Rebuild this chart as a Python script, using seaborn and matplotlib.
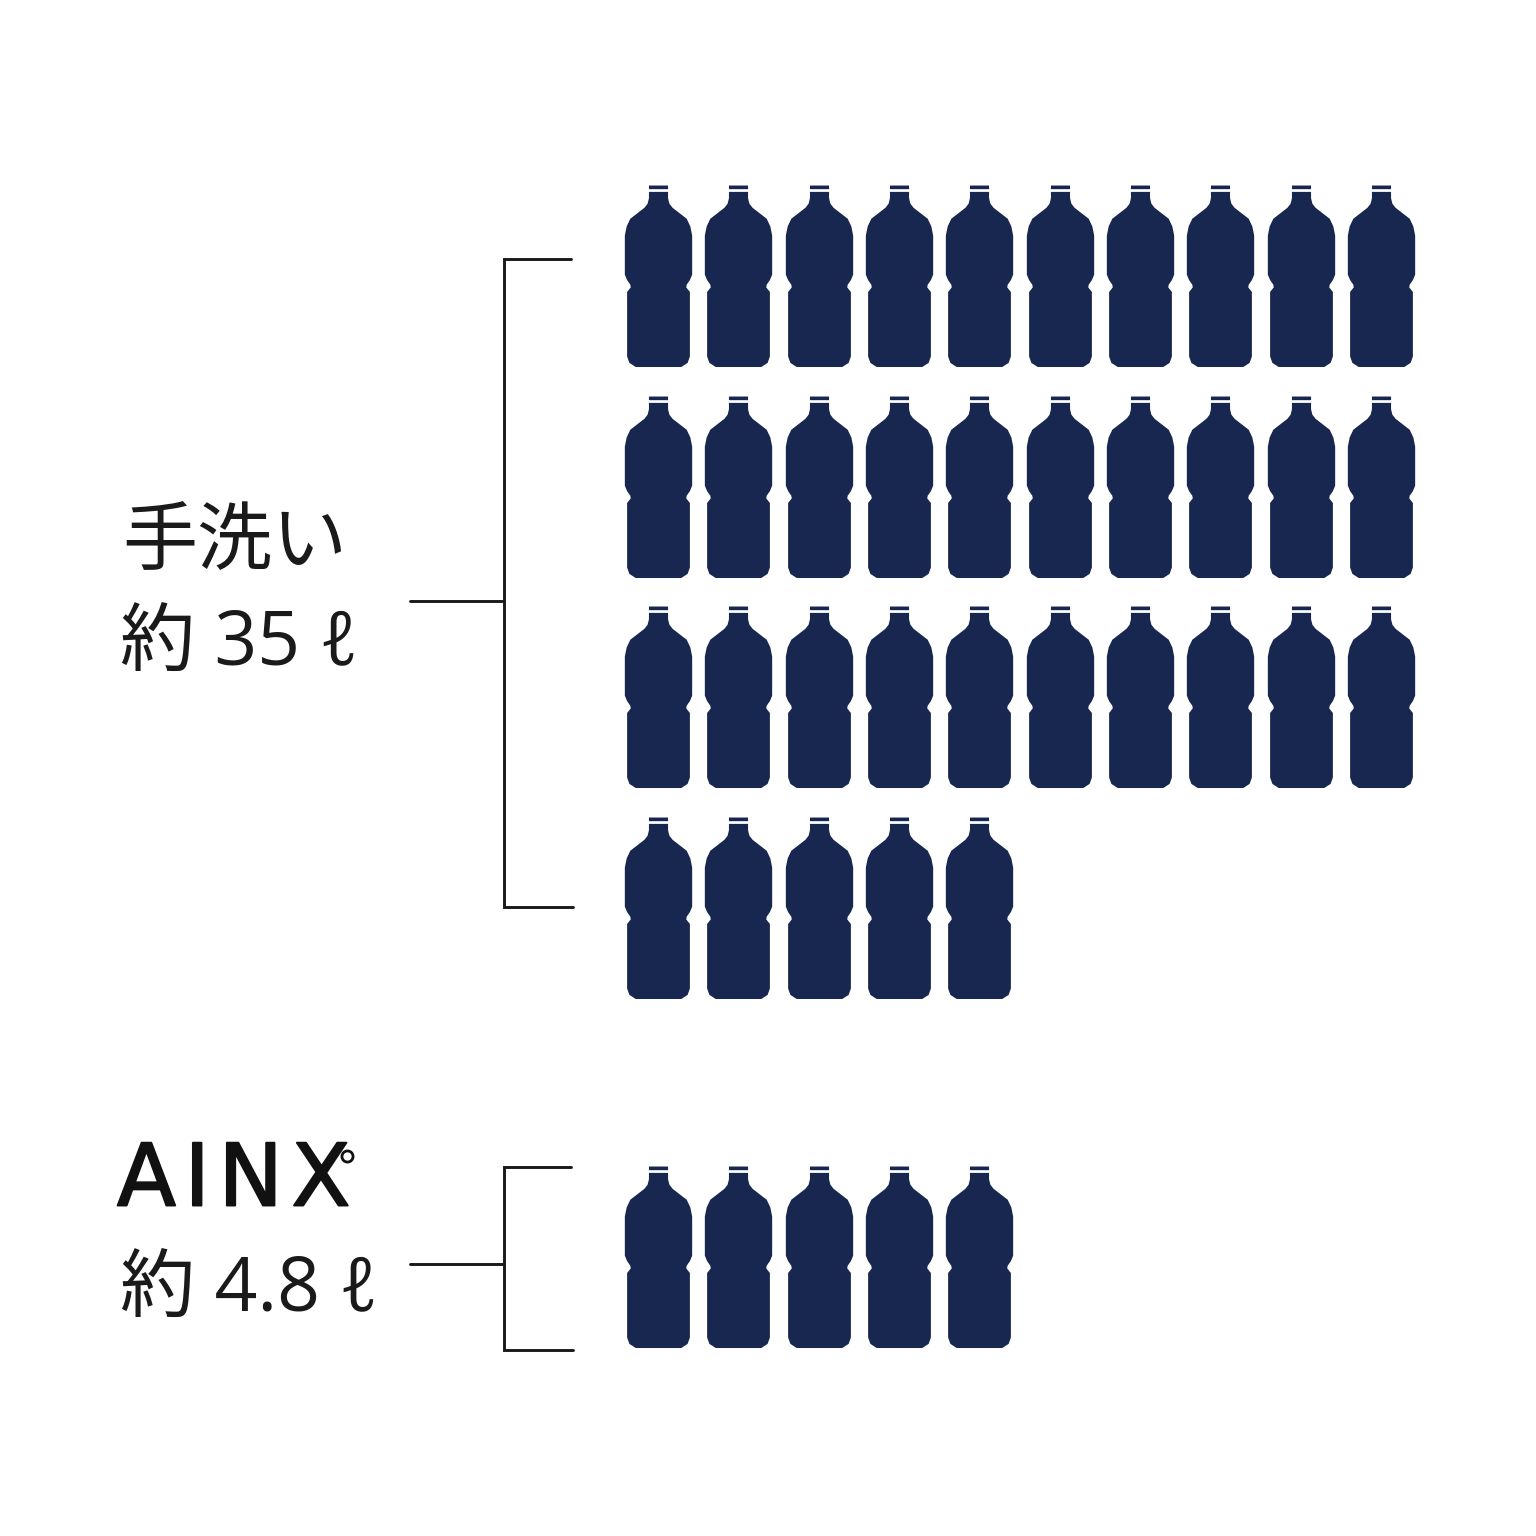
import matplotlib
matplotlib.use("Agg")
import matplotlib.patheffects as pe
import matplotlib.pyplot as plt
import pandas as pd
import seaborn as sns
from matplotlib.markers import MarkerStyle
from matplotlib.path import Path
from matplotlib.transforms import Affine2D

# how many bottles in each row
hand_rows = [10, 10, 10, 5]
ainx_rows = [5]
hand_label = "手洗い"
hand_amount = "約 35 ℓ"
ainx_label = "A\u200aI\u200aN\u200aX"
ainx_amount = "約 4.8 ℓ"

navy = "#18274f"
ink = "#1a1a1a"


def poly(points):
    return list(points) + [points[0]]


# bottle outline, half width 0.37 and height -1..1
right_side = [(0.105, 0.93), (0.105, 0.86), (0.12, 0.80), (0.155, 0.755), (0.31, 0.635),
              (0.35, 0.55), (0.37, 0.45), (0.37, 0.02), (0.345, -0.04), (0.31, -0.09),
              (0.305, -0.12), (0.345, -0.17), (0.345, -0.88), (0.32, -0.95), (0.25, -0.995)]
body = right_side + [(-x, y) for x, y in right_side[::-1]]
cap = [(-0.105, 1.0), (0.105, 1.0), (0.105, 0.96), (-0.105, 0.96)]
verts, codes = [], []
for shape in [body, cap]:
    closed = poly(shape)
    verts += closed
    codes += [Path.MOVETO] + [Path.LINETO] * (len(shape) - 1) + [Path.CLOSEPOLY]
bottle = MarkerStyle(Path(verts, codes))

records = []
for r, n in enumerate(hand_rows):
    for c in range(n):
        records.append({"col": c, "row": r})
ainx_y = len(hand_rows) + 0.66
for r, n in enumerate(ainx_rows):
    for c in range(n):
        records.append({"col": c, "row": ainx_y + r})
df = pd.DataFrame(records)

sns.set_theme(style="white")
plt.rcParams["font.family"] = ["Open Sans", "Noto Sans CJK JP", "DejaVu Sans"]

fig = plt.figure(figsize=(15.36, 15.36), dpi=100)
ax = fig.add_axes([0, 0, 1, 1])
sns.scatterplot(data=df, x="col", y="row", marker=bottle, s=131 ** 2, color=navy,
                linewidth=0, legend=False, ax=ax)
ax.set_xlim(-658 / 80.35, (1536 - 658) / 80.35)
ax.set_ylim((1536 - 276) / 210.5, -276 / 210.5)
ax.axis("off")

# everything beside the bottles is placed in image pixels
px = Affine2D().scale(1 / 1536, -1 / 1536).translate(0, 1) + fig.transFigure

brackets = [
    ([571, 504, 504, 573], [259, 259, 907, 907], 601),
    ([571, 504, 504, 573], [1167, 1167, 1350, 1350], 1264),
]
for xs, ys, stem in brackets:
    ax.plot(xs, ys, color=ink, lw=2.1, transform=px, solid_joinstyle="miter")
    ax.plot([410, 504], [stem, stem], color=ink, lw=2.1, transform=px)

ax.text(122, 544, hand_label, transform=px, fontsize=54, color=ink, va="center", ha="left")
ax.text(120, 646, hand_amount, transform=px, fontsize=54, color=ink, va="center", ha="left")
ax.text(120, 1292, ainx_amount, transform=px, fontsize=54, color=ink, va="center", ha="left")
ax.text(117, 1182, ainx_label, transform=px, fontsize=62, color="#111111",
        family="DejaVu Sans", va="center", ha="left",
        path_effects=[pe.withStroke(linewidth=1.4, foreground="#111111")])
ax.plot([347], [1156], marker="o", ms=8, mfc="white", mec="#111111", mew=2, transform=px)

fig.savefig("out.png", dpi=100)
